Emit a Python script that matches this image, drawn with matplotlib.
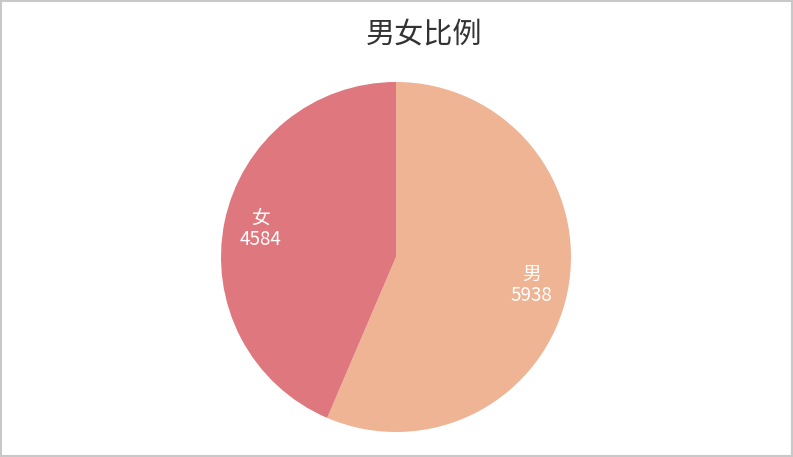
import matplotlib
matplotlib.use("Agg")
import matplotlib.pyplot as plt
from matplotlib.patches import Rectangle

plt.rcParams["font.family"] = ["Noto Sans CJK SC", "DejaVu Sans"]

labels = ["男", "女"]
counts = [5938, 4584]
colors = ["#EEB493", "#DE787E"]
title = "男女比例"

W, H = 793, 457
fig = plt.figure(figsize=(W / 100, H / 100), dpi=100)

cx, cy, r = 396, 257, 175
ax = fig.add_axes([(cx - r) / W, (H - cy - r) / H, 2 * r / W, 2 * r / H])
ax.pie(counts, colors=colors, startangle=90, counterclock=False,
       wedgeprops={"linewidth": 0},
       labels=[f"{name}\n{n}" for name, n in zip(labels, counts)],
       labeldistance=0.79,
       textprops={"color": "white", "fontsize": 13.5, "ha": "center", "va": "center",
                  "linespacing": 1.0})
ax.set_xlim(-1, 1)
ax.set_ylim(-1, 1)
ax.set_aspect("equal")

fig.text(424 / W, 1 - 34 / H, title, ha="center", va="center", fontsize=21, color="#333333")

fig.patches.append(Rectangle((0.75 / W, 0.75 / H), 1 - 2 / W, 1 - 2 / H, transform=fig.transFigure,
                             fill=False, edgecolor="#C8C8C8", linewidth=1.5))

fig.savefig("out.png", dpi=100)
